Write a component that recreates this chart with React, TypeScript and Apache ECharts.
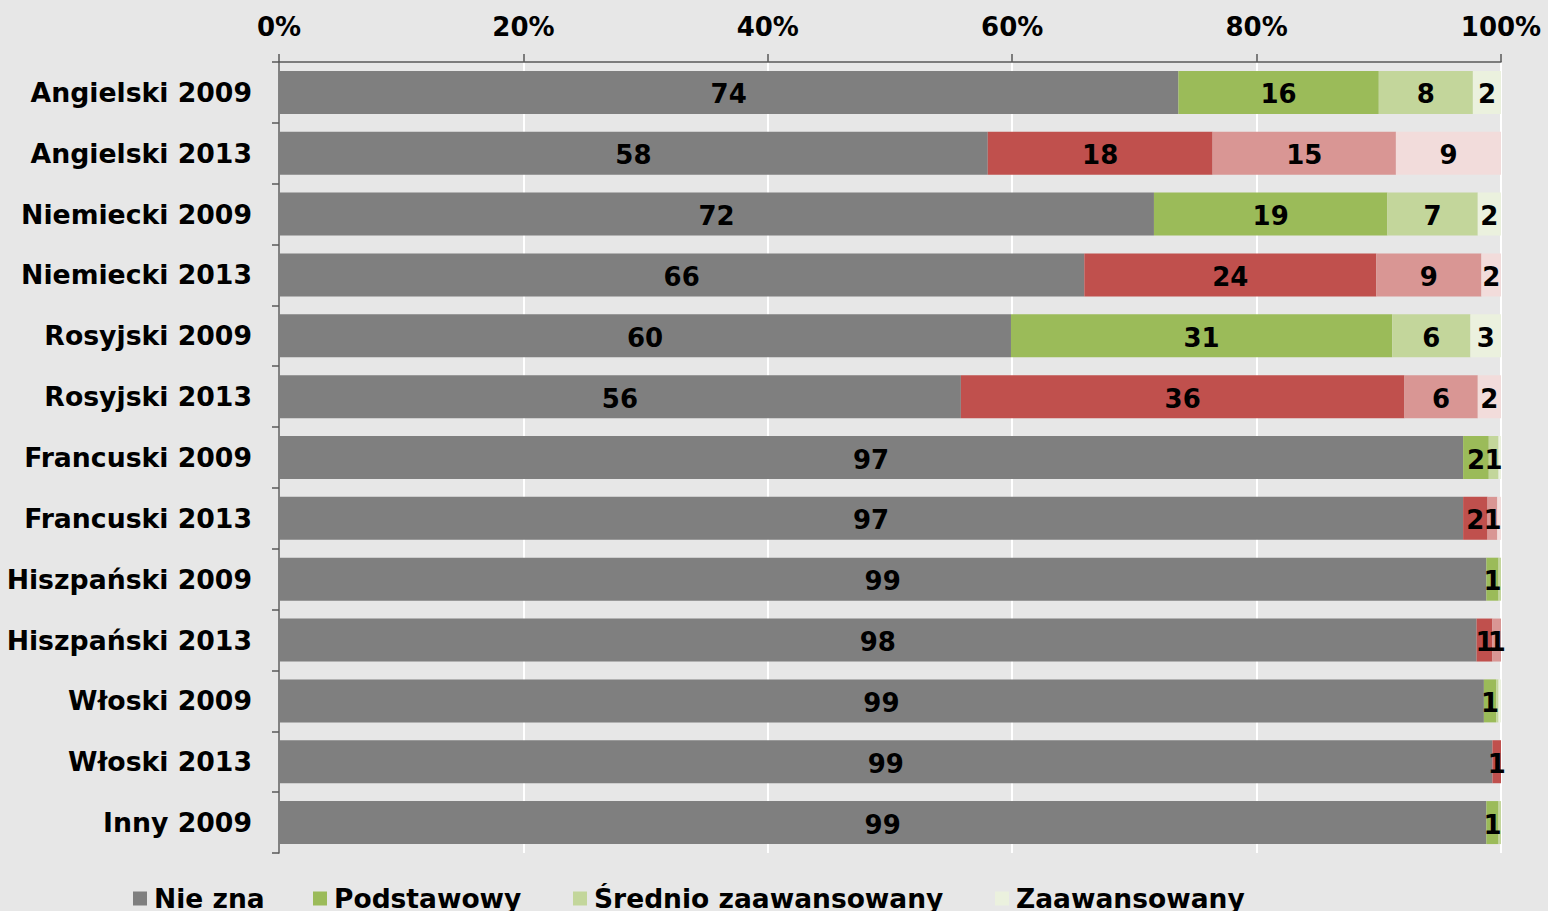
import React, { useEffect, useRef } from "react";
import * as echarts from "echarts";

const categories = [
  "Angielski 2009",
  "Angielski 2013",
  "Niemiecki 2009",
  "Niemiecki 2013",
  "Rosyjski 2009",
  "Rosyjski 2013",
  "Francuski 2009",
  "Francuski 2013",
  "Hiszpański 2009",
  "Hiszpański 2013",
  "Włoski 2009",
  "Włoski 2013",
  "Inny 2009",
];

const seriesNames = ["Nie zna", "Podstawowy", "Średnio zaawansowany", "Zaawansowany"];

const nieZna = [73.6, 58.0, 71.6, 65.9, 59.9, 55.8, 96.9, 96.9, 98.8, 98.0, 98.6, 99.3, 98.8];
const podstawowy = [16.4, 18.4, 19.1, 23.9, 31.2, 36.3, 2.1, 2.0, 1.0, 1.3, 1.0, 0.7, 1.0];
const srednio = [7.7, 15.0, 7.4, 8.6, 6.4, 6.0, 0.8, 0.8, 0.2, 0.7, 0.2, 0, 0.2];
const zaawansowany = [2.3, 8.6, 1.9, 1.6, 2.5, 1.9, 0.2, 0.3, 0, 0, 0.2, 0, 0];

const xTicks = [0, 20, 40, 60, 80, 100];

const colors2009 = ["#7F7F7F", "#9BBB59", "#C3D69B", "#EBF1DE"];
const colors2013 = ["#7F7F7F", "#C0504D", "#D99694", "#F2DCDB"];

const FONT = "'DejaVu Sans', Verdana, sans-serif";

export default function App() {
  const ref = useRef<HTMLDivElement>(null);

  useEffect(() => {
    if (!ref.current) return;
    const chart = echarts.init(ref.current, undefined, { renderer: "svg" });
    const allValues = [nieZna, podstawowy, srednio, zaawansowany];
    const legendLefts = [133, 313, 573, 995];

    const series = allValues.map((vals, si) => ({
      name: seriesNames[si],
      type: "bar",
      stack: "total",
      barWidth: 43,
      itemStyle: { color: colors2009[si] },
      label: {
        show: true,
        position: "inside",
        offset: [0, 2],
        color: "#000",
        fontFamily: FONT,
        fontWeight: "bold",
        fontSize: 26,
        formatter: (p: any) => {
          const v = Math.round(p.value);
          return v >= 1 ? String(v) : "";
        },
      },
      data: vals.map((v, ci) => ({
        value: v,
        itemStyle: {
          color: categories[ci].endsWith("2013") ? colors2013[si] : colors2009[si],
        },
      })),
    }));

    chart.setOption({
      animation: false,
      backgroundColor: "#E7E7E7",
      grid: { left: 279, right: 47, top: 62, bottom: 58, containLabel: false },
      legend: seriesNames.map((n, i) => ({
        data: [n],
        left: legendLefts[i],
        top: 885,
        itemWidth: 14,
        itemHeight: 14,
        icon: "rect",
        padding: 0,
        textStyle: {
          color: "#000",
          fontFamily: FONT,
          fontWeight: "bold",
          fontSize: 26.5,
          padding: [0, 0, 0, 2],
        },
        selectedMode: false,
      })),
      xAxis: {
        type: "value",
        position: "top",
        min: xTicks[0],
        max: xTicks[xTicks.length - 1],
        interval: 20,
        axisLine: { show: true, lineStyle: { color: "#595959", width: 1.5 } },
        axisTick: { show: true, length: 8, lineStyle: { color: "#595959", width: 1.5 } },
        axisLabel: {
          formatter: "{value}%",
          color: "#000",
          fontFamily: FONT,
          fontWeight: "bold",
          fontSize: 26,
          margin: 22,
        },
        splitLine: { show: true, lineStyle: { color: "#FFFFFF", width: 2 } },
      },
      yAxis: {
        type: "category",
        inverse: true,
        data: categories,
        axisLine: { show: true, lineStyle: { color: "#595959", width: 1.5 } },
        axisTick: { show: true, length: 7, lineStyle: { color: "#595959", width: 1.5 } },
        axisLabel: {
          color: "#000",
          fontFamily: FONT,
          fontWeight: "bold",
          fontSize: 26.7,
          margin: 27,
          padding: [2, 0, 0, 0],
        },
      },
      series,
    });

    return () => chart.dispose();
  }, []);

  return (
    <div
      ref={ref}
      style={{ position: "fixed", left: 0, top: 0, width: 1548, height: 911 }}
    />
  );
}
